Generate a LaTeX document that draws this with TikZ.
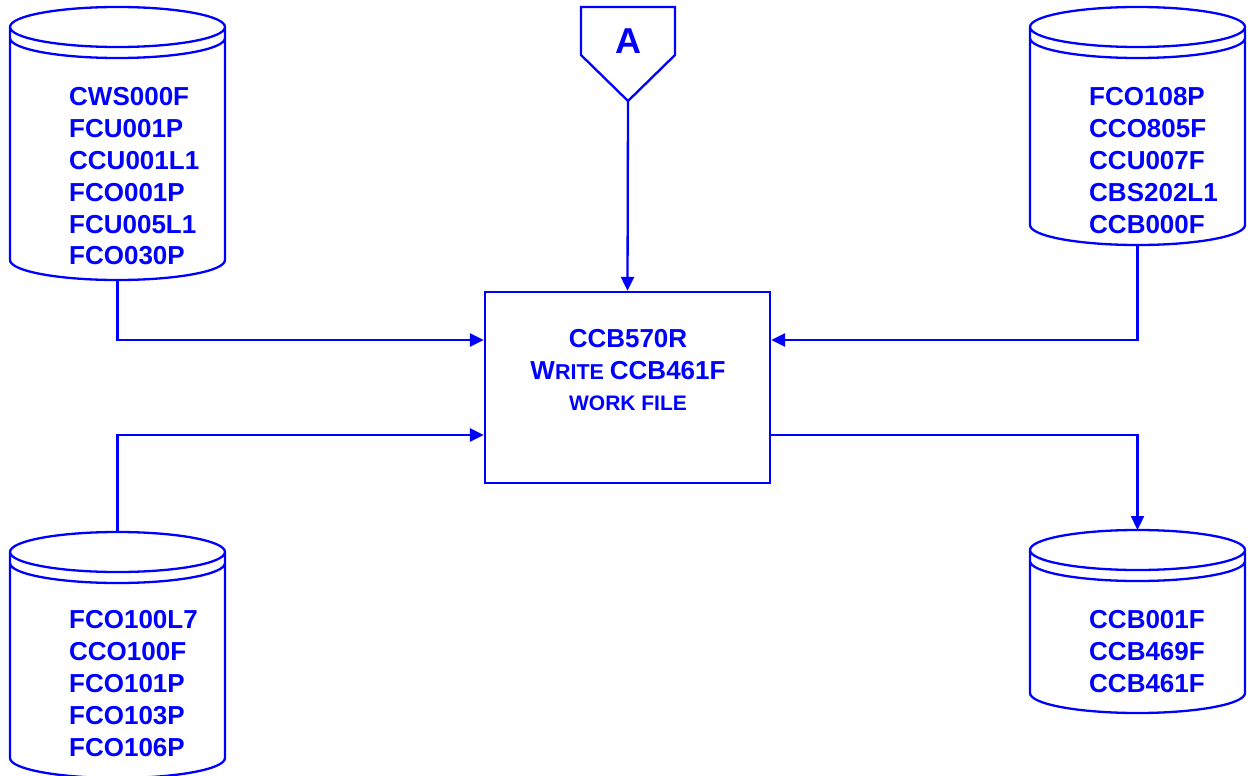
\documentclass[tikz,border=0pt]{standalone}
\usepackage{fontspec}
\setmainfont{Liberation Sans}
\usetikzlibrary{calc,arrows.meta}
\definecolor{fblue}{RGB}{0,0,255}
\tikzset{
  ln/.style={draw=fblue, line width=2.3pt},
  arr/.style={ln, -{Triangle[length=14pt,width=13pt]}},
  cylnode/.style={draw=none, inner sep=0pt, outer sep=0pt},
  cyltext/.style={text=fblue, inner sep=0pt, align=left, anchor=west,
     font=\fontsize{26}{31.8}\selectfont\bfseries},
  procbox/.style={ln, fill=white, inner sep=0pt, minimum width=285pt, minimum height=191pt},
  boxtext/.style={text=fblue, inner sep=0pt, font=\bfseries},
}
\newcommand\dbcyl[1]{%
  \draw[ln] let \p1=(#1.north west), \p2=(#1.south east), \n1={(\x2-\x1)/2} in
    (\x1+\n1, \y1-20pt) ellipse [x radius=\n1, y radius=20pt]
    (\x1, \y1-20pt) -- (\x1, \y2+20pt)
      arc[start angle=180, end angle=360, x radius=\n1, y radius=20pt] -- (\x2, \y1-20pt)
    (\x1, \y1-31pt) arc[start angle=180, end angle=360, x radius=\n1, y radius=20pt];
}
\begin{document}
\begin{tikzpicture}[x=1pt, y=1pt]
\useasboundingbox (0,0) rectangle (1251,-776);

% cylinders (named frames)
\node[cylnode, minimum width=215pt, minimum height=273pt] (c1) at (117.5,-143.5) {};
\node[cylnode, minimum width=215pt, minimum height=238pt] (c2) at (1137.5,-126) {};
\node[cylnode, minimum width=215pt, minimum height=246pt] (c3) at (117.5,-655) {};
\node[cylnode, minimum width=215pt, minimum height=183pt] (c4) at (1137.5,-621.5) {};
\dbcyl{c1}\dbcyl{c2}\dbcyl{c3}\dbcyl{c4}

\node[cyltext] (t1) at (69,-176.5) {CWS000F\\FCU001P\\CCU001L1\\FCO001P\\FCU005L1\\FCO030P};
\node[cyltext] (t2) at (1089,-160.5) {FCO108P\\CCO805F\\CCU007F\\CBS202L1\\CCB000F};
\node[cyltext] (t3) at (69,-683.5) {FCO100L7\\CCO100F\\FCO101P\\FCO103P\\FCO106P};
\node[cyltext] (t4) at (1089,-651.5) {CCB001F\\CCB469F\\CCB461F};

% process box
\node[procbox] (p) at (627.5,-387.5) {};
\node[boxtext, font=\fontsize{26}{26}\selectfont\bfseries] (l1) at (628,-339) {CCB570R};
\node[boxtext] (l2) at (628,-371) {\fontsize{26}{26}\selectfont\bfseries W\fontsize{21.5}{21.5}\selectfont RITE \fontsize{26}{26}\selectfont CCB461F};
\node[boxtext, font=\fontsize{21}{21}\selectfont\bfseries] (l3) at (628,-403) {WORK FILE};

% off-page connector A
\coordinate (ptl) at (581,-7);
\coordinate (ptr) at (675,-7);
\coordinate (prr) at (675,-55);
\coordinate (pll) at (581,-55);
\coordinate (ptip) at (628,-101);
\draw[ln, line join=miter] (ptl) -- (ptr) -- (prr) -- (ptip) -- (pll) -- cycle;
\node[boxtext, font=\fontsize{36}{36}\selectfont\bfseries] (A) at (628,-41) {A};

% connectors
\draw[arr] (ptip) -- (p.north);
\draw[arr] (c1.south) |- ($(p.west)+(0,47.5)$);
\draw[arr] (c2.south) |- ($(p.east)+(0,47.5)$);
\draw[arr] (c3.north) |- ($(p.west)+(0,-47.5)$);
\draw[arr] ($(p.east)+(0,-47.5)$) -| (c4.north);
\end{tikzpicture}
\end{document}
